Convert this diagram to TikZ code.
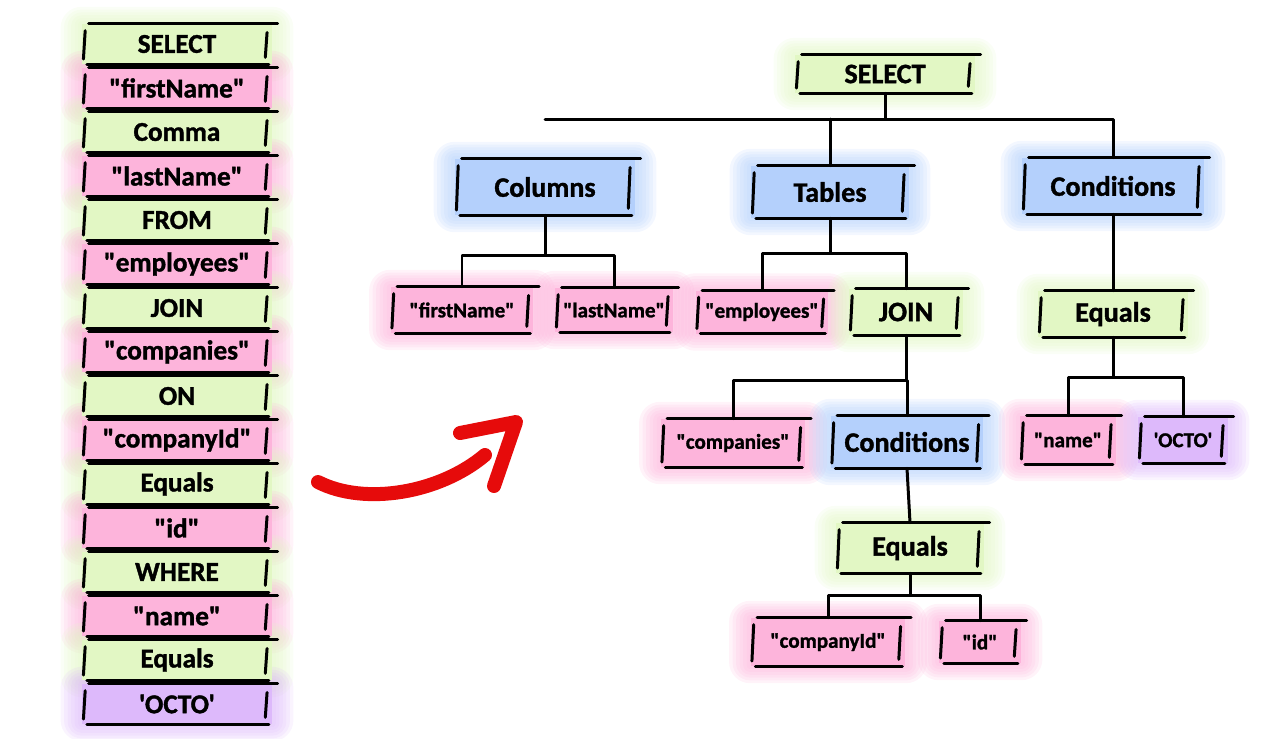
\documentclass[tikz,border=0pt]{standalone}
\usepackage{fontspec}
\newfontfamily\hand[BoldFeatures={FakeBold=1.3}]{Carlito}
\usetikzlibrary{backgrounds}

\definecolor{kwgreen}{HTML}{E2F7C4}
\definecolor{strpink}{HTML}{FDB4DB}
\definecolor{grpblue}{HTML}{B4D0FC}
\definecolor{valpurple}{HTML}{DDB9FB}
\definecolor{arrowred}{HTML}{E60B0B}

\tikzset{
  ink/.style={line width=1.7pt, line cap=round, line join=round, black},
  tok/.style={fill=#1, inner sep=0pt, text=black},
  listtok/.style={tok=#1, minimum width=3.8cm, minimum height=0.8cm,
    font=\hand\bfseries\fontsize{15.5}{17}\selectfont},
  innertok/.style={tok=#1, font=\hand\bfseries\fontsize{16}{18}\selectfont},
  leaftok/.style={tok=#1, font=\hand\bfseries\fontsize{12}{14}\selectfont},
}

% soft halo behind a box, then the pen strokes round it
\newcommand{\sketchbox}[2]{%
  \begin{scope}[on background layer]
    \foreach \g in {2,4,...,12} {
      \fill[#2, opacity=0.16, rounded corners=\g pt]
        ([shift={(-\g pt,0.8*\g pt)}]#1.north west) rectangle ([shift={(\g pt,-0.8*\g pt)}]#1.south east);
    }
  \end{scope}
  \draw[ink] ([xshift=4pt]#1.north west) -- ([xshift=3pt]#1.north east);
  \draw[ink] ([xshift=3pt]#1.south west) -- ([xshift=-2pt]#1.south east);
  \draw[ink] ([shift={(2pt,-4pt)}]#1.north west) -- ([shift={(1pt,3pt)}]#1.south west);
  \draw[ink] ([shift={(-3pt,-5pt)}]#1.north east) -- ([shift={(-4pt,4pt)}]#1.south east);
}

\begin{document}
\begin{tikzpicture}[x=0.02cm, y=-0.02cm]
    \useasboundingbox (0,0) rectangle (1281,738);

    % token list
    \foreach \t/\c [count=\i] in {SELECT/kwgreen, "firstName"/strpink, Comma/kwgreen,
        "lastName"/strpink, FROM/kwgreen, "employees"/strpink, JOIN/kwgreen,
        "companies"/strpink, ON/kwgreen, "companyId"/strpink, Equals/kwgreen,
        "id"/strpink, WHERE/kwgreen, "name"/strpink, Equals/kwgreen, 'OCTO'/valpurple} {
        \node[listtok=\c] (tok\i) at (177,44*\i) {\t};
        \sketchbox{tok\i}{\c}
    }

    % tree
    \node[innertok=kwgreen, minimum width=3.6cm, minimum height=0.76cm] (sel) at (885,74) {SELECT};
    \node[innertok=grpblue, minimum width=3.6cm, minimum height=1.12cm] (cols) at (545,187) {Columns};
    \node[innertok=grpblue, minimum width=3.16cm, minimum height=1.04cm] (tabs) at (830,192) {Tables};
    \node[innertok=grpblue, minimum width=3.64cm, minimum height=1.12cm] (cond) at (1113,186) {Conditions};

    \node[leaftok=strpink, minimum width=2.86cm, minimum height=0.92cm] (fn) at (462,310) {"firstName"};
    \node[leaftok=strpink, minimum width=2.36cm, minimum height=0.88cm] (ln) at (614,310) {"lastName"};
    \node[leaftok=strpink, minimum width=2.66cm, minimum height=0.86cm] (emp) at (762,312) {"employees"};
    \node[innertok=kwgreen, minimum width=2.28cm, minimum height=0.92cm] (join) at (906,312) {JOIN};
    \node[innertok=kwgreen, minimum width=3.0cm, minimum height=0.92cm] (eqa) at (1113,314) {Equals};

    \node[leaftok=strpink, minimum width=2.9cm, minimum height=0.96cm] (comp) at (733,443) {"companies"};
    \node[innertok=grpblue, minimum width=3.06cm, minimum height=1.04cm] (condb) at (907,442) {Conditions};
    \node[leaftok=strpink, minimum width=1.92cm, minimum height=0.96cm] (name) at (1068,440) {"name"};
    \node[leaftok=valpurple, minimum width=1.8cm, minimum height=0.92cm] (octo) at (1183,440) {'OCTO'};

    \node[innertok=kwgreen, minimum width=2.96cm, minimum height=1.0cm] (eqb) at (910,548) {Equals};
    \node[leaftok=strpink, minimum width=3.1cm, minimum height=0.96cm] (cid) at (828,642) {"companyId"};
    \node[leaftok=strpink, minimum width=1.64cm, minimum height=0.84cm] (id) at (980,642) {"id"};

    \foreach \n/\c in {sel/kwgreen, cols/grpblue, tabs/grpblue, cond/grpblue,
        fn/strpink, ln/strpink, emp/strpink, join/kwgreen, eqa/kwgreen,
        comp/strpink, condb/grpblue, name/strpink, octo/valpurple,
        eqb/kwgreen, cid/strpink, id/strpink} {
        \sketchbox{\n}{\c}
    }

    % branching coordinates
    \coordinate (selbar)  at (885,119);
    \coordinate (colsbar) at (545,255);
    \coordinate (tabsbar) at (830,253);
    \coordinate (joinbar) at (906,380);
    \coordinate (eqabar)  at (1113,377);
    \coordinate (eqbbar)  at (910,595);

    % Lines
    \draw[ink] (sel.south) -- (selbar);
    \draw[ink] (cols.north |- selbar) -| (cond.north);
    \draw[ink] (tabs.north |- selbar) -- (tabs.north);
    \draw[ink] (cols.south) -- (colsbar);
    \draw[ink] (fn.north) |- (colsbar) -| (ln.north);
    \draw[ink] (tabs.south) -- (tabsbar);
    \draw[ink] (emp.north) |- (tabsbar) -| (join.north);
    \draw[ink] (join.south) -- (joinbar);
    \draw[ink] (comp.north) |- (joinbar) -| (condb.north);
    \draw[ink] (condb.south) -- (eqb.north);
    \draw[ink] (eqb.south) -- (eqbbar);
    \draw[ink] (cid.north) |- (eqbbar) -| (id.north);
    \draw[ink] (cond.south) -- (eqa.north);
    \draw[ink] (eqa.south) -- (eqabar);
    \draw[ink] (name.north) |- (eqabar) -| (octo.north);

    % red arrow
    \coordinate (arrs) at (318,482);
    \coordinate (arre) at (485,455);
    \coordinate (arrl) at (460,433);
    \coordinate (arrt) at (516,422);
    \coordinate (arrr) at (494,486);
    \draw[arrowred, line width=0.28cm, line cap=round] (arrs) .. controls (365,506) and (440,493) .. (arre);
    \draw[arrowred, line width=0.28cm, line cap=round, line join=round] (arrl) -- (arrt) -- (arrr);
\end{tikzpicture}
\end{document}
